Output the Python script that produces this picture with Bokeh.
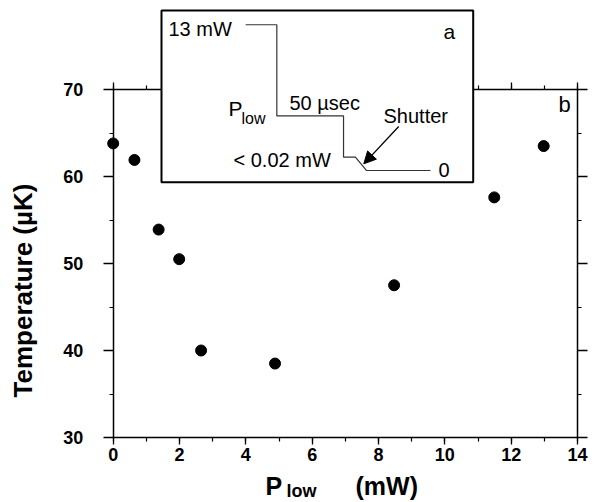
import math
from bokeh.plotting import figure
from bokeh.models import (Range1d, LinearAxis, Label, Arrow, NormalHead,
                          FixedTicker, ColumnDataSource)
from bokeh.embed import file_html
from bokeh.resources import INLINE

# ---------------- data ----------------
p_low_mw = [0.0, 0.64, 1.37, 1.99, 2.65, 4.88, 8.47, 11.49, 12.98]
temperature_uk = [63.8, 61.9, 53.9, 50.5, 40.0, 38.5, 47.5, 57.6, 63.5]

x_ticks = [0, 2, 4, 6, 8, 10, 12, 14]
x_minor = list(range(0, 15))
y_ticks = [30, 40, 50, 60, 70]
y_minor = [30, 35, 40, 45, 50, 55, 60, 65, 70]

# inset (a): schematic power sequence, in inset units (0..100 box)
pulse_t = [27, 37, 37, 58.4, 58.4, 62.2, 65.8, 86.3]
pulse_level = [91.7, 91.7, 38.6, 38.6, 14.6, 14.6, 6.8, 6.8]

FONT = "Liberation Sans"

# ---------------- layout (figure pixel coords) ----------------
W, H = 594, 502
X0_PX, X14_PX = 112.7, 577.0         # x=0 and x=14
Y70_PX, Y30_PX = 89.0, 437.0         # y=70 and y=30 (from top)
xs = (X14_PX - X0_PX) / 14.0
ys = (Y30_PX - Y70_PX) / 40.0

BOX_L, BOX_R, BOX_T, BOX_B = 161.0, 472.7, 10.0, 181.7
ixs = (BOX_R - BOX_L) / 100.0
iys = (BOX_B - BOX_T) / 100.0

p = figure(width=W, height=H, output_backend="svg", toolbar_location=None,
           x_axis_location=None, y_axis_location=None,
           x_range=Range1d(-X0_PX / xs, 14 + (W - X14_PX) / xs),
           y_range=Range1d(30 - (H - Y30_PX) / ys, 70 + Y70_PX / ys),
           min_border=0, outline_line_color=None)
p.grid.visible = False
p.background_fill_color = "white"
p.border_fill_color = "white"

p.extra_x_ranges = {"ix": Range1d(-BOX_L / ixs, (W - BOX_L) / ixs)}
p.extra_y_ranges = {"iy": Range1d(-(H - BOX_B) / iys, 100 + BOX_T / iys)}


def style_axis(ax, labels=True, out=9, minor_out=4):
    ax.axis_line_color = "black"
    ax.axis_line_width = 1.5
    ax.major_tick_line_color = "black"
    ax.minor_tick_line_color = "black"
    ax.major_tick_line_width = 1.3
    ax.minor_tick_line_width = 1.2
    ax.major_tick_in = 0
    ax.major_tick_out = out
    ax.minor_tick_in = 0
    ax.minor_tick_out = minor_out
    ax.major_label_text_font = FONT
    ax.major_label_text_font_style = "bold"
    ax.major_label_text_font_size = "18px"
    ax.major_label_text_color = "black" if labels else None


xt = FixedTicker(ticks=x_ticks, minor_ticks=x_minor)
yt = FixedTicker(ticks=y_ticks, minor_ticks=y_minor)

bottom = LinearAxis(ticker=xt, fixed_location=30, bounds=(0, 14))
style_axis(bottom, out=7)
bottom.major_label_standoff = 3
p.add_layout(bottom, "below")

left = LinearAxis(ticker=yt, fixed_location=0, bounds=(30, 70))
style_axis(left, out=10)
left.major_label_standoff = 20
p.add_layout(left, "left")

top = LinearAxis(ticker=xt, fixed_location=70, bounds=(0, 14))
style_axis(top, labels=False, out=7)
p.add_layout(top, "above")

right = LinearAxis(ticker=yt, fixed_location=14, bounds=(30, 70))
style_axis(right, labels=False, out=10)
p.add_layout(right, "right")

# data points
src = ColumnDataSource(dict(x=p_low_mw, y=temperature_uk))
p.scatter("x", "y", source=src, size=11, color="black")


def dx(px):
    return (px - X0_PX) / xs


def dy(py):
    return 70 - (py - Y70_PX) / ys


def mlabel(px, py, text, size, bold=False, angle=0.0, align="left"):
    p.add_layout(Label(x=dx(px), y=dy(py), text=text, angle=angle,
                       text_align=align, text_baseline="middle",
                       text_font=FONT, text_font_style="bold" if bold else "normal",
                       text_font_size=size, text_color="black"))


# axis titles (positions are cap-height centres)
mlabel(22.5, 290, "Temperature (µK)", "26px", bold=True, angle=math.pi / 2, align="center")
mlabel(265, 485.5, "P", "25px", bold=True)
mlabel(286, 490, "low", "18px", bold=True)
mlabel(355, 485.5, "(mW)", "25px", bold=True)
mlabel(558, 104, "b", "22px")

# ---------------- inset (a) ----------------
box = p.quad(left=[0], right=[100], bottom=[0], top=[100], x_range_name="ix",
             y_range_name="iy", fill_color="white", line_color="black", line_width=2)
box.level = "overlay"
wave = p.line(pulse_t, pulse_level, x_range_name="ix", y_range_name="iy",
              line_color="#333333", line_width=1.2)
wave.level = "overlay"

arrow = Arrow(x_start=76.1, y_start=32.4, x_end=64.9, y_end=10.7,
              x_range_name="ix", y_range_name="iy", line_color="black", line_width=1.3,
              end=NormalHead(size=12, fill_color="black", line_color="black"),
              level="overlay")
p.add_layout(arrow)


def ilabel(px, py, text, size="20px"):
    # px, py: left edge / cap-centre in page pixels, mapped into inset units
    p.add_layout(Label(x=(px - BOX_L) / ixs, y=(BOX_B - py) / iys, text=text,
                       x_range_name="ix", y_range_name="iy",
                       text_font=FONT, text_font_size=size, text_color="black",
                       text_baseline="middle", level="overlay"))


ilabel(168, 28.5, "13 mW")
ilabel(443, 30.5, "a", "21px")
ilabel(228, 107.5, "P", "21px")
ilabel(241, 117.5, "low", "16px")
ilabel(289, 102.5, "50 µsec")
ilabel(383, 115, "Shutter")
ilabel(233, 159.5, "< 0.02 mW")
ilabel(438, 169, "0")

open("out.html", "w").write(file_html(p, INLINE))
